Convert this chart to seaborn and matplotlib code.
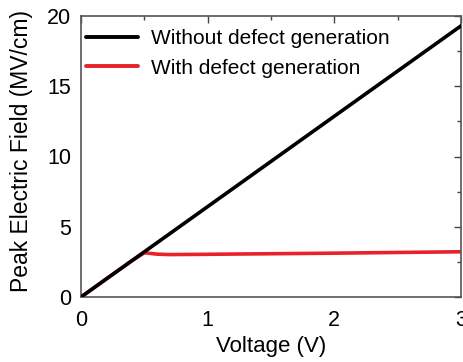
import matplotlib
matplotlib.use("Agg")
import matplotlib.pyplot as plt
from matplotlib.ticker import MultipleLocator
import seaborn as sns
import pandas as pd

# Peak field vs applied voltage
volt_ref = [0.0, 3.0]
field_ref = [0.0, 19.3]

volt_def = [0.0, 0.1, 0.2, 0.3, 0.4, 0.5, 0.6, 0.7, 1.0, 1.5, 2.0, 2.5, 3.0]
field_def = [0.0, 0.64, 1.29, 1.93, 2.57, 3.15, 3.05, 3.02, 3.04, 3.08, 3.12, 3.17, 3.22]

label_ref = "Without defect generation"
label_def = "With defect generation"

sns.set_theme(style="white")
plt.rcParams["font.family"] = ["Liberation Sans", "DejaVu Sans"]
plt.rcParams["text.color"] = "black"
plt.rcParams["axes.labelcolor"] = "black"
plt.rcParams["xtick.color"] = "black"
plt.rcParams["ytick.color"] = "black"

df = pd.concat([
    pd.DataFrame({"V": volt_ref, "E": field_ref, "case": label_ref}),
    pd.DataFrame({"V": volt_def, "E": field_def, "case": label_def}),
])

fig = plt.figure(figsize=(4.64, 3.62), dpi=100)
ax = fig.add_axes([81 / 464, 1 - 297 / 362, 380 / 464, 281 / 362])

sns.lineplot(data=df, x="V", y="E", hue="case",
             palette={label_ref: "#000000", label_def: "#e8222a"},
             linewidth=2.6, ax=ax, sort=False)
# keep the black line on top of the red one
ax.get_lines()[0].set_zorder(3)
ax.get_lines()[1].set_zorder(2)

ax.set_xlim(0, 3)
ax.set_ylim(0, 20)
ax.xaxis.set_major_locator(MultipleLocator(1))
ax.xaxis.set_minor_locator(MultipleLocator(0.5))
ax.yaxis.set_major_locator(MultipleLocator(5))
ax.yaxis.set_minor_locator(MultipleLocator(2.5))
ax.tick_params(which="both", direction="in", top=True, right=True,
               color="#444444", width=1.0)
ax.tick_params(which="major", length=5, labelsize=15.5)
ax.tick_params(axis="y", which="major", pad=7)
ax.tick_params(axis="x", which="major", pad=9)
ax.tick_params(which="minor", length=3)
for s in ax.spines.values():
    s.set_color("#555555")
    s.set_linewidth(1.2)

ax.set_xlabel("Voltage (V)", fontsize=16, labelpad=4)
ax.set_ylabel("Peak Electric Field (MV/cm)", fontsize=16.5, labelpad=10)
ax.yaxis.label.set_y(0.52)

leg = ax.legend(loc="upper left", frameon=False, fontsize=15,
                handlelength=2.5, handletextpad=0.6, labelspacing=0.5,
                borderaxespad=0.0, borderpad=0.25,
                bbox_to_anchor=(0.0, 0.971))
for h in leg.get_lines():
    h.set_linewidth(2.8)

fig.savefig("out.png", dpi=100)
